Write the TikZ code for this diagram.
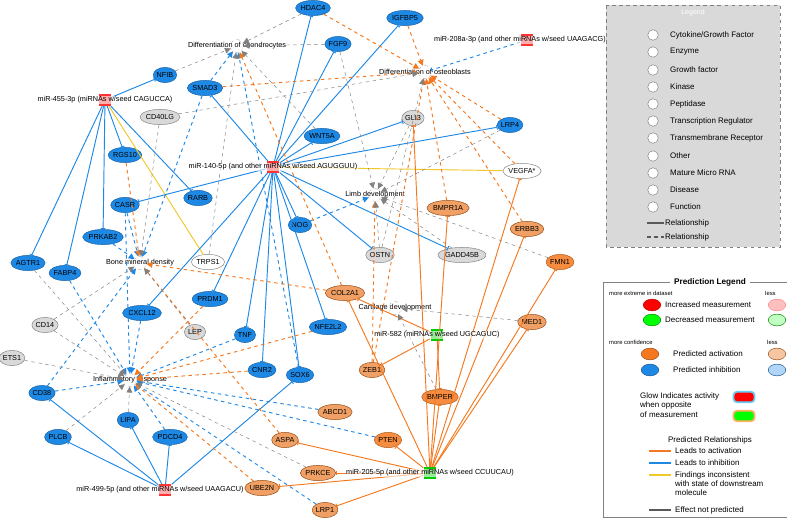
\documentclass[tikz,border=0pt]{standalone}
\usepackage{fontspec}
\setmainfont{Liberation Sans}
\usetikzlibrary{shapes.geometric, arrows.meta}
\definecolor{inhblue}{RGB}{30,136,229}
\definecolor{actorange}{RGB}{245,120,30}
\definecolor{liteorange}{RGB}{240,160,100}
\definecolor{incons}{RGB}{240,200,40}
\tikzset{
  gene/.style={ellipse, minimum width=18, minimum height=13, inner sep=0pt, font=\fontsize{6.2}{7}\selectfont},
  bgene/.style={gene, fill=inhblue, draw=inhblue!70!black},
  ogene/.style={gene, fill=actorange!85, draw=actorange!70!black},
  lgene/.style={gene, fill=liteorange, draw=actorange!60!black},
  ggene/.style={gene, fill=gray!30, draw=gray},
  func/.style={circle, draw=gray!60, dashed, fill=white, minimum size=11, inner sep=0pt},
  flabel/.style={font=\fontsize{6.2}{7}\selectfont, fill=white, fill opacity=0.6, text opacity=1, inner sep=0.5pt},
  mirna/.style={rectangle, minimum width=11, minimum height=10, inner sep=0pt},
  rmir/.style={mirna, fill=red!80},
  gmir/.style={mirna, fill=green!80!black},
  inh/.style={draw=inhblue, thick, -{Bar[width=4pt]}},
  inhd/.style={draw=inhblue, thick, dashed, -{Triangle[width=5pt,length=5pt]}},
  actl/.style={draw=actorange, thick, -{Bar[width=4pt]}},
  actd/.style={draw=actorange, thick, dashed, -{Triangle[width=5pt,length=5pt]}},
  grayd/.style={draw=gray, dashed, -{Triangle[width=5pt,length=5pt]}},
  inconl/.style={draw=incons, thick},
  legline/.style={line width=1.5pt},
  legtext/.style={font=\fontsize{6.8}{8}\selectfont, anchor=west, inner sep=0pt},
  smalltext/.style={font=\fontsize{5}{6}\selectfont, anchor=west, inner sep=0pt},
}
\begin{document}
\begin{tikzpicture}[x=0.03cm, y=-0.03cm]
\useasboundingbox (0,0) rectangle (787,527);

% functions
\node[func] (chondro) at (237,46) {};
\node[flabel] at (237,46) {Differentiation of chondrocytes};
\node[func] (osteo) at (425,72) {};
\node[flabel] at (425,72) {Differentiation of osteoblasts};
\node[func] (limb) at (375,195) {};
\node[flabel] at (375,195) {Limb development};
\node[func] (bone) at (140,263) {};
\node[flabel] at (140,263) {Bone mineral density};
\node[func] (cart) at (395,308) {};
\node[flabel] at (395,308) {Cartilage development};
\node[func] (inflam) at (130,380) {};
\node[flabel] at (130,380) {Inflammatory response};

% molecules
\node[bgene] (HDAC4) at (313,8) {HDAC4};
\node[bgene] (IGFBP5) at (405,18) {IGFBP5};
\node[bgene] (FGF9) at (338,44) {FGF9};
\node[bgene] (NFIB) at (165,75) {NFIB};
\node[bgene] (SMAD3) at (205,88) {SMAD3};
\node[ggene] (CD40LG) at (160,117) {CD40LG};
\node[ggene] (GLI3) at (413,118) {GLI3};
\node[bgene] (LRP4) at (510,125) {LRP4};
\node[bgene] (WNT5A) at (322,136) {WNT5A};
\node[bgene] (RGS10) at (125,155) {RGS10};
\node[gene, draw=gray, fill=white] (VEGFA) at (522,171) {VEGFA*};
\node[bgene] (RARB) at (198,198) {RARB};
\node[bgene] (CASR) at (125,205) {CASR};
\node[lgene] (BMPR1A) at (448,208) {BMPR1A};
\node[bgene] (NOG) at (300,225) {NOG};
\node[bgene] (PRKAB2) at (103,237) {PRKAB2};
\node[lgene] (ERBB3) at (527,229) {ERBB3};
\node[ggene] (GADD45B) at (462,255) {GADD45B};
\node[ggene] (OSTN) at (380,255) {OSTN};
\node[ogene] (FMN1) at (560,262) {FMN1};
\node[bgene] (AGTR1) at (28,263) {AGTR1};
\node[bgene] (FABP4) at (65,273) {FABP4};
\node[gene, draw=gray, fill=white] (TRPS1) at (208,262) {TRPS1};
\node[lgene] (COL2A1) at (345,293) {COL2A1};
\node[bgene] (PRDM1) at (210,299) {PRDM1};
\node[bgene] (CXCL12) at (142,313) {CXCL12};
\node[lgene] (MED1) at (532,322) {MED1};
\node[ggene] (CD14) at (45,325) {CD14};
\node[ggene] (LEP) at (195,332) {LEP};
\node[bgene] (TNF) at (245,335) {TNF};
\node[bgene] (NFE2L2) at (328,327) {NFE2L2};
\node[ggene] (ETS1) at (12,358) {ETS1};
\node[bgene] (CNR2) at (262,370) {CNR2};
\node[bgene] (SOX6) at (300,375) {SOX6};
\node[lgene] (ZEB1) at (372,370) {ZEB1};
\node[bgene] (CD38) at (42,393) {CD38};
\node[ogene] (BMPER) at (440,397) {BMPER};
\node[lgene] (ABCD1) at (335,412) {ABCD1};
\node[bgene] (LIPA) at (128,420) {LIPA};
\node[bgene] (PLCB) at (58,437) {PLCB};
\node[bgene] (PDCD4) at (170,437) {PDCD4};
\node[lgene] (ASPA) at (285,440) {ASPA};
\node[ogene] (PTEN) at (388,440) {PTEN};
\node[lgene] (PRKCE) at (318,473) {PRKCE};
\node[lgene] (UBE2N) at (262,488) {UBE2N};
\node[lgene] (LRP1) at (325,510) {LRP1};

% micro RNAs
\node[rmir] (m455) at (105,100) {};
\node[rmir] (m140) at (273,167) {};
\node[rmir] (m208) at (527,40) {};
\node[rmir] (m499) at (165,490) {};
\node[gmir] (m582) at (437,335) {};
\node[gmir] (m205) at (430,473) {};

% relationships
\foreach \t in {NFIB,RGS10,PRKAB2,AGTR1,FABP4,RARB}
  \draw[inh] (m455) -- (\t);
\draw[inconl] (m455) -- (TRPS1);
\foreach \t in {HDAC4,FGF9,IGFBP5,SMAD3,WNT5A,LRP4,GLI3,CASR,NOG,OSTN,GADD45B,PRDM1,CXCL12,TNF,CNR2,NFE2L2,SOX6}
  \draw[inh] (m140) -- (\t);
\draw[inconl] (m140) -- (VEGFA);
\draw[inh, dashed] (m208) -- (osteo);
\foreach \t in {CD38,PLCB,LIPA,PDCD4,SOX6}
  \draw[inh] (m499) -- (\t);
\foreach \t in {PTEN,ASPA,PRKCE,UBE2N,LRP1,BMPER,MED1,FMN1,ERBB3,BMPR1A,VEGFA,COL2A1,GLI3}
  \draw[actl] (m205) -- (\t);
\foreach \t in {BMPER,ZEB1,COL2A1}
  \draw[actl] (m582) -- (\t);
\foreach \s/\f in {SMAD3/chondro,SMAD3/bone,CASR/bone,PRKAB2/bone,FABP4/inflam,CD38/bone,CXCL12/inflam,CASR/inflam,TNF/inflam,SOX6/chondro,NOG/limb,PDCD4/inflam,PTEN/inflam,ABCD1/inflam,LRP1/inflam,CD38/inflam}
  \draw[inhd] (\s) -- (\f);
\foreach \s/\f in {HDAC4/osteo,IGFBP5/osteo,BMPR1A/osteo,ERBB3/osteo,VEGFA/osteo,LRP4/osteo,COL2A1/bone,PRDM1/inflam,NFE2L2/inflam,CNR2/inflam,ZEB1/limb,RGS10/bone,UBE2N/inflam,ASPA/bone,SMAD3/osteo,COL2A1/chondro,ZEB1/osteo}
  \draw[actd] (\s) -- (\f);
\foreach \s/\f in {NFIB/chondro,HDAC4/chondro,FGF9/chondro,CD40LG/bone,CD40LG/osteo,AGTR1/inflam,CD14/inflam,CD14/bone,ETS1/inflam,PLCB/inflam,LIPA/inflam,PRKCE/inflam,TRPS1/chondro,FGF9/limb,GLI3/limb,GADD45B/limb,OSTN/limb,MED1/cart,BMPER/cart,FMN1/limb,LRP4/limb,WNT5A/chondro,LEP/bone,OSTN/osteo}
  \draw[grayd] (\s) -- (\f);

% miRNA labels
\node[flabel] at (105,100) {miR-455-3p (miRNAs w/seed CAGUCCA)};
\node[flabel] at (273,167) {miR-140-5p (and other miRNAs w/seed AGUGGUU)};
\node[flabel] at (520,40) {miR-208a-3p (and other miRNAs w/seed UAAGACG)};
\node[flabel] at (160,490) {miR-499-5p (and other miRNAs w/seed UAAGACU)};
\node[flabel] at (437,335) {miR-582 (miRNAs w/seed UGCAGUC)};
\node[flabel] at (430,473) {miR-205-5p (and other miRNAs w/seed CCUUCAU)};

% legend
\draw[gray, dashed, fill=gray!30] (606,5) rectangle (780,247);
\node[white, font=\fontsize{6}{7}\selectfont] at (693,13) {Legend};
\foreach \y/\t in {35/{Cytokine/Growth Factor},52/Enzyme,70/Growth factor,87/Kinase,104/Peptidase,121/Transcription Regulator,138/Transmembrane Receptor,156/Other,173/Mature Micro RNA,190/Disease,207/Function}
{
  \node[draw=gray, fill=white, circle, minimum size=9, inner sep=0pt] at (653,\y) {};
  \node[legtext] at (670,\y) {\t};
}
\draw[legline, gray!70!black] (647,223) -- (664,223);
\node[legtext] at (665,223) {Relationship};
\draw[legline, gray!70!black, dashed] (647,237) -- (664,237);
\node[legtext] at (665,237) {Relationship};

\draw[gray] (603,282) rectangle (787,517);
\node[fill=white, font=\bfseries\fontsize{7}{8}\selectfont] at (710,282) {Prediction Legend};
\node[smalltext] at (609,293) {more extreme in dataset};
\node[smalltext] at (765,293) {less};
\node[ellipse, fill=red, draw=red!70!black, minimum width=15, minimum height=10] at (652,305) {};
\node[legtext] at (665,305) {Increased measurement};
\node[ellipse, fill=pink, draw=red!50, minimum width=15, minimum height=10] at (777,305) {};
\node[ellipse, fill=green, draw=green!50!black, minimum width=15, minimum height=10] at (652,320) {};
\node[legtext] at (665,320) {Decreased measurement};
\node[ellipse, fill=green!25, draw=green!50!black, minimum width=15, minimum height=10] at (777,320) {};
\node[smalltext] at (609,342) {more confidence};
\node[smalltext] at (767,342) {less};
\node[ellipse, fill=actorange, draw=actorange!60!black, minimum width=15, minimum height=10] at (650,354) {};
\node[legtext] at (673,354) {Predicted activation};
\node[ellipse, fill=liteorange!60, draw=actorange!60!black, minimum width=15, minimum height=10] at (777,354) {};
\node[ellipse, fill=inhblue, draw=inhblue!60!black, minimum width=15, minimum height=10] at (650,370) {};
\node[legtext] at (673,370) {Predicted inhibition};
\node[ellipse, fill=inhblue!35, draw=inhblue!60!black, minimum width=15, minimum height=10] at (777,370) {};
\node[legtext, align=left] at (640,405) {Glow Indicates activity\\when opposite\\of measurement};
\node[rounded corners=3pt, fill=red, draw=cyan!60, line width=1.5pt, minimum width=18, minimum height=9] at (744,397) {};
\node[rounded corners=3pt, fill=green, draw=orange!60, line width=1.5pt, minimum width=18, minimum height=9] at (744,416) {};
\node[font=\fontsize{6.8}{8}\selectfont] at (710,440) {Predicted Relationships};
\draw[legline, actorange] (649,451) -- (671,451);
\node[legtext] at (675,451) {Leads to activation};
\draw[legline, inhblue] (649,463) -- (671,463);
\node[legtext] at (675,463) {Leads to inhibition};
\draw[legline, incons] (649,475) -- (671,475);
\node[legtext, align=left, anchor=north west] at (675,471) {Findings inconsistent\\with state of downstream\\molecule};
\draw[legline, gray!70!black] (649,510) -- (671,510);
\node[legtext] at (675,510) {Effect not predicted};
\end{tikzpicture}
\end{document}
